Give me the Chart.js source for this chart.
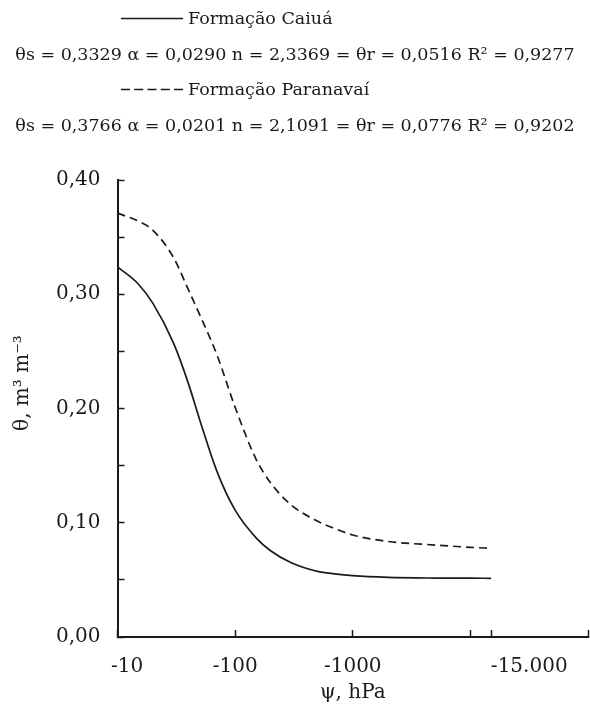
<!DOCTYPE html>
<html>
<head>
<meta charset="utf-8">
<script src="https://cdn.jsdelivr.net/npm/chart.js@4"></script>
<style>
  body { margin: 0; background: #fff; }
  #caja { position: relative; width: 590px; height: 715px; }
  .leg { position: absolute; left: 0; width: 590px; height: 24px; line-height: 24px;
         font-family: "DejaVu Serif", serif; font-size: 17.5px; color: #1a1a1a; white-space: nowrap; }
  .centro { text-align: center; }
  .muestra { position: absolute; left: 121px; top: 11px; }
  .nombre { position: absolute; left: 188px; top: 0; }
</style>
</head>
<body>
<div id="caja">
  <div class="leg" style="top:6px">
    <svg class="muestra" width="62" height="3"><line x1="0" y1="1.5" x2="62" y2="1.5" stroke="#1a1a1a" stroke-width="1.6"/></svg>
    <span class="nombre">Formação Caiuá</span>
  </div>
  <div class="leg centro" style="top:42px">θs = 0,3329 α = 0,0290 n = 2,3369 = θr = 0,0516 R² = 0,9277</div>
  <div class="leg" style="top:77px">
    <svg class="muestra" width="62" height="3"><line x1="0" y1="1.5" x2="62" y2="1.5" stroke="#1a1a1a" stroke-width="1.6" stroke-dasharray="9,4.25"/></svg>
    <span class="nombre">Formação Paranavaí</span>
  </div>
  <div class="leg centro" style="top:113px">θs = 0,3766 α = 0,0201 n = 2,1091 = θr = 0,0776 R² = 0,9202</div>
  <canvas id="grafico" width="590" height="715"></canvas>
</div>
<script>
// tensao (|psi|, hPa) e umidade
const psi = [10, 15, 20, 30, 40, 50, 70, 100, 150, 200, 300, 500, 700, 1000, 2000, 5000, 10000, 15000]
const thetaCaiua = [0.324, 0.309, 0.292, 0.257, 0.222, 0.190, 0.145, 0.111, 0.087, 0.0755, 0.065, 0.0575, 0.0553, 0.0537, 0.0522, 0.0516, 0.0515, 0.0514]
const thetaParanavai = [0.371, 0.364, 0.356, 0.332, 0.304, 0.282, 0.247, 0.201, 0.156, 0.135, 0.1155, 0.1015, 0.095, 0.0893, 0.0836, 0.0805, 0.0785, 0.0776]

const xTicks = [10, 100, 1000, 10000, 15000, 100000]
const xTickLabels = ['-10', '-100', '-1000', '', '-15.000', '']

const fonte = "'DejaVu Serif', serif"
const tinta = '#1a1a1a'

const pontos = (ys) => psi.map((p, i) => ({ x: p, y: ys[i] }))

const ctx = document.querySelector('#grafico').getContext('2d')

const grafico = new Chart(ctx, {
    type: 'line',
    data: {
        datasets: [
            {
                label: 'Formação Caiuá',
                data: pontos(thetaCaiua),
                borderColor: tinta,
                borderWidth: 1.7,
                pointRadius: 0,
                cubicInterpolationMode: 'monotone',
            },
            {
                label: 'Formação Paranavaí',
                data: pontos(thetaParanavai),
                borderColor: tinta,
                borderWidth: 1.7,
                borderDash: [8, 5],
                pointRadius: 0,
                cubicInterpolationMode: 'monotone',
            }
        ]
    },
    options: {
        responsive: false,
        animation: false,
        layout: { padding: { top: 180, right: 2, bottom: 0, left: 0 } },
        plugins: {
            legend: { display: false },
            tooltip: { enabled: false },
        },
        scales: {
            x: {
                type: 'logarithmic',
                min: 10,
                max: 100000,
                afterBuildTicks: (scale) => { scale.ticks = xTicks.map(v => ({ value: v })) },
                border: { display: true, color: tinta, width: 2 },
                grid: { drawOnChartArea: false, tickLength: -7, tickWidth: 1.5, tickColor: tinta },
                ticks: {
                    autoSkip: false,
                    maxRotation: 0,
                    padding: 2,
                    color: tinta,
                    font: { family: fonte, size: 20, lineHeight: 3.5 },
                    callback: (v) => {
                        const i = xTicks.indexOf(v)
                        const t = i < 0 ? '' : xTickLabels[i]
                        // -10 um pouco deslocado, -15.000 começa no traço
                        if (v === 10) return '\u00a0\u00a0\u00a0' + t
                        if (v === 15000) return '\u00a0'.repeat(12) + t
                        return t
                    }
                },
                title: {
                    display: true,
                    text: 'ψ, hPa',
                    color: tinta,
                    font: { family: fonte, size: 20 },
                    padding: { top: -23, bottom: 10 }
                }
            },
            y: {
                min: 0,
                max: 0.4,
                border: { display: true, color: tinta, width: 2 },
                grid: { drawOnChartArea: false, tickLength: -7, tickWidth: 1.5, tickColor: tinta },
                ticks: {
                    stepSize: 0.05,
                    padding: 24,
                    color: tinta,
                    font: { family: fonte, size: 20 },
                    callback: (v) => Math.round(v * 100) % 10 === 0 ? v.toFixed(2).replace('.', ',') : ''
                },
                title: {
                    display: true,
                    text: '\u00a0'.repeat(8) + 'θ, m³ m⁻³',
                    color: tinta,
                    font: { family: fonte, size: 20, lineHeight: 1 },
                    padding: { top: 13, bottom: -1 }
                }
            }
        }
    }
})
</script>
</body>
</html>
